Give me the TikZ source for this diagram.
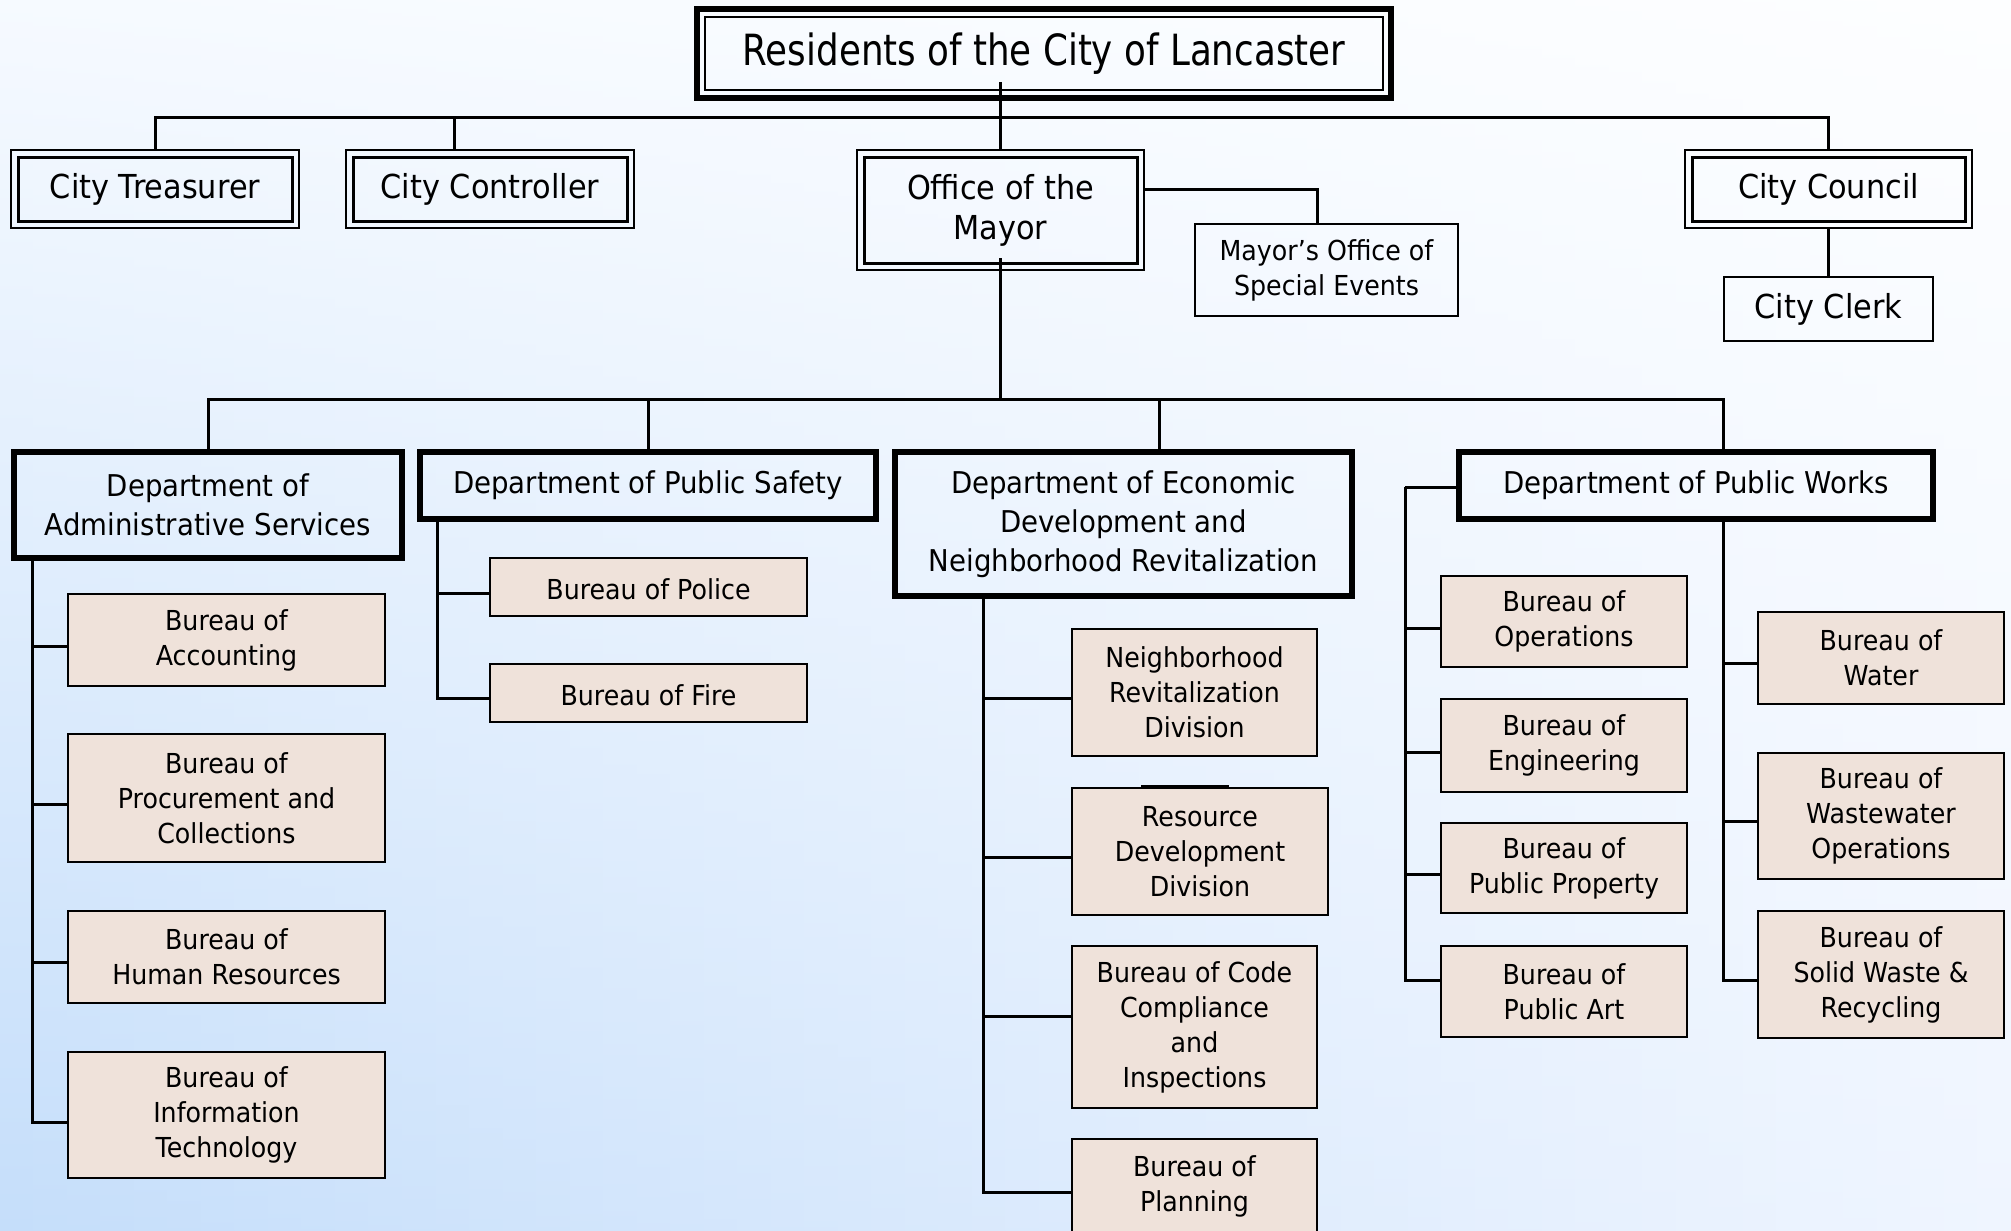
\documentclass[tikz,border=0pt]{standalone}
\usepackage{fontspec}
\setmainfont{DejaVu Sans}[FakeStretch=0.92]
\newfontfamily\ftop{DejaVu Sans}[FakeStretch=0.83]
\definecolor{burfill}{HTML}{EFE2DA}
\definecolor{bgUL}{HTML}{F6FAFF}
\definecolor{bgUR}{HTML}{FDFEFF}
\definecolor{bgLL}{HTML}{C5DEFA}
\definecolor{bgLR}{HTML}{EFF5FF}
\newcommand\innerbox[3]{\draw[line width=#2] ([xshift=#3,yshift=-#3]#1.north west) rectangle ([xshift=-#3,yshift=#3]#1.south east);}
\tikzset{
  lvtop/.style={draw, line width=6pt, font=\ftop\fontsize{43}{50}\selectfont},
  lvtwo/.style={draw, line width=1.5pt, font=\fontsize{33}{40}\selectfont},
  dept/.style={draw, line width=6pt, font=\fontsize{30}{39}\selectfont},
  bureau/.style={draw, line width=2.2pt, fill=burfill, font=\fontsize{27.5}{35}\selectfont,
    execute at begin node={\rule{0pt}{26pt}}},
  plainbox/.style={draw, line width=2pt, font=\fontsize{27.5}{35}\selectfont,
    execute at begin node={\rule{0pt}{26pt}}},
  clerkbox/.style={draw, line width=2pt, font=\fontsize{33}{40}\selectfont},
  conn/.style={line width=3pt},
}
\begin{document}
\begin{tikzpicture}[x=1pt,y=-1pt,
  every node/.style={inner sep=0pt, outer sep=0pt, align=center}]
\useasboundingbox (0,0) rectangle (2011,1231);
\clip (0,0) rectangle (2011,1231);
% background
\foreach \i in {0,...,59}{
  \pgfmathtruncatemacro\p{round(100*\i/59)}
  \shade[top color=bgUR!\p!bgUL, bottom color=bgLR!\p!bgLL] (\i*33.52,0) rectangle (\i*33.52+34.5,1231);
}
% top levels
\node[lvtop, minimum width=694, minimum height=89] (res) at (1044,53.5) {Residents of the City of Lancaster};
\innerbox{res}{2pt}{8pt}
\node[lvtwo, minimum width=288, minimum height=78] (tre) at (155,189) {City Treasurer};
\innerbox{tre}{3pt}{7pt}
\node[lvtwo, minimum width=288, minimum height=78] (con) at (490,189) {City Controller};
\innerbox{con}{3pt}{7pt}
\node[lvtwo, minimum width=287, minimum height=120] (may) at (1000.5,210) {Office of the\\Mayor};
\innerbox{may}{3pt}{7pt}
\node[lvtwo, minimum width=287, minimum height=78] (cou) at (1828.5,189) {City Council};
\innerbox{cou}{3pt}{7pt}
\node[plainbox, minimum width=263, minimum height=92] (se) at (1326.5,270) {Mayor’s Office of\\Special Events};
\node[clerkbox, minimum width=209, minimum height=64] (clk) at (1828.5,309) {City Clerk};
% departments
\node[dept, minimum width=388, minimum height=106] (adm) at (208,505) {Department of\\Administrative Services};
\node[dept, minimum width=456, minimum height=67] (ps) at (648,485.5) {Department of Public Safety};
\node[dept, minimum width=457, minimum height=144] (eco) at (1123.5,524) {Department of Economic\\Development and\\Neighborhood Revitalization};
\node[dept, minimum width=474, minimum height=67] (pw) at (1696,485.5) {Department of Public Works};
% bureaus: admin
\node[bureau, minimum width=317, minimum height=92] (acc) at (226.5,640) {Bureau of\\Accounting};
\node[bureau, minimum width=317, minimum height=128] (proc) at (226.5,798) {Bureau of\\Procurement and\\Collections};
\node[bureau, minimum width=317, minimum height=92] (hr) at (226.5,957) {Bureau of\\Human Resources};
\node[bureau, minimum width=317, minimum height=126] (it) at (226.5,1115) {Bureau of\\Information\\Technology};
% public safety
\node[bureau, minimum width=317, minimum height=58] (police) at (648.5,587) {Bureau of Police};
\node[bureau, minimum width=317, minimum height=58] (fire) at (648.5,693) {Bureau of Fire};
% economic development
\node[bureau, minimum width=245, minimum height=127] (nrd) at (1194.5,692.5) {Neighborhood\\Revitalization\\Division};
\node[bureau, minimum width=256, minimum height=127] (rdd) at (1200,851.5) {Resource\\Development\\Division};
\node[bureau, minimum width=245, minimum height=162] (code) at (1194.5,1027) {Bureau of Code\\Compliance\\and\\Inspections};
\node[bureau, minimum width=245, minimum height=94] (plan) at (1194.5,1186) {Bureau of\\Planning};
% public works
\node[bureau, minimum width=246, minimum height=91] (ops) at (1564,621.5) {Bureau of\\Operations};
\node[bureau, minimum width=246, minimum height=93] (eng) at (1564,745.5) {Bureau of\\Engineering};
\node[bureau, minimum width=246, minimum height=90] (pp) at (1564,868) {Bureau of\\Public Property};
\node[bureau, minimum width=246, minimum height=91] (art) at (1564,991.5) {Bureau of\\Public Art};
\node[bureau, minimum width=246, minimum height=92] (water) at (1881,658) {Bureau of\\Water};
\node[bureau, minimum width=246, minimum height=126] (ww) at (1881,816) {Bureau of\\Wastewater\\Operations};
\node[bureau, minimum width=246, minimum height=127] (sw) at (1881,974.5) {Bureau of\\Solid Waste \&\\Recycling};
\draw[line width=3pt] ([xshift=-59pt,yshift=2pt]rdd.north) -- ([xshift=29pt,yshift=2pt]rdd.north);
% connectors: top
\coordinate (busT) at (0,117);
\coordinate (busD) at (0,399);
\draw[conn] (tre.north) -- (tre.north |- busT) -- (cou.north |- busT) -- (cou.north);
\draw[conn] (con.north -| 454,0) -- (busT -| 454,0);
\draw[conn] (may.north) -- ([yshift=16pt]may.north |- res.south);
\draw[conn] ([yshift=21pt]may.east) -| (se.north -| 1317,0);
\draw[conn] (cou.south) -- (clk.north);
% mayor to departments
\draw[conn] ([yshift=12pt]may.south) -- (may.south |- busD);
\draw[conn] (adm.north) -- (adm.north |- busD) -- (busD -| 1723,0) -- (pw.north -| 1723,0);
\draw[conn] (ps.north) -- (ps.north |- busD);
\draw[conn] (eco.north -| 1159,0) -- (busD -| 1159,0);
% trunks
\coordinate (tA) at (adm.south -| 32,0);
\foreach \n/\s in {acc/-6, proc/-6, hr/-5, it/-7}
  \draw[conn] (tA) |- ([yshift=\s pt]\n.west);
\coordinate (tP) at (ps.south -| 437,0);
\foreach \n/\s in {police/-6, fire/-5}
  \draw[conn] (tP) |- ([yshift=\s pt]\n.west);
\coordinate (tE) at (eco.south -| 983,0);
\foreach \n/\s in {nrd/-5.5, rdd/-5.5, code/11, plan/-6}
  \draw[conn] (tE) |- ([yshift=\s pt]\n.west);
\coordinate (tL) at ([yshift=-1.5pt]pw.west -| 1405,0);
\draw[conn] ([yshift=-1.5pt]pw.west) -- (tL);
\foreach \n/\s in {ops/-6.5, eng/-6.5, pp/-6, art/11.5}
  \draw[conn] (tL) |- ([yshift=\s pt]\n.west);
\coordinate (tR) at (pw.south -| 1723,0);
\foreach \n/\s in {water/-5, ww/-5, sw/-5.5}
  \draw[conn] (tR) |- ([yshift=\s pt]\n.west);
\end{tikzpicture}
\end{document}
